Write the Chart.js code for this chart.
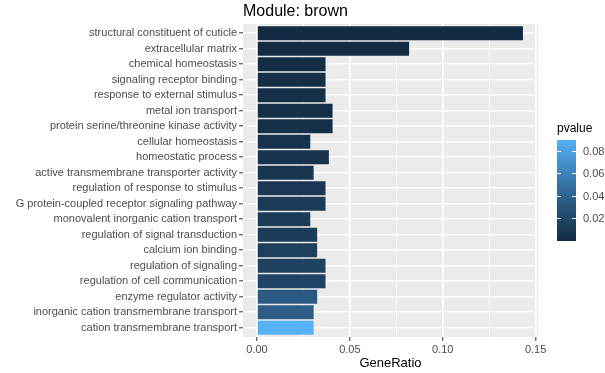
<!DOCTYPE html>
<html>
<head>
<meta charset="utf-8">
<script src="https://cdn.jsdelivr.net/npm/chart.js@4/dist/chart.umd.min.js"></script>
<style>
  html, body { margin: 0; padding: 0; background: #ffffff; }
  canvas { display: block; }
</style>
</head>
<body>
<canvas id="c" width="605" height="373"></canvas>
<script>
// GO terms enriched in the brown module, top to bottom
const terms = [
  "structural constituent of cuticle",
  "extracellular matrix",
  "chemical homeostasis",
  "signaling receptor binding",
  "response to external stimulus",
  "metal ion transport",
  "protein serine/threonine kinase activity",
  "cellular homeostasis",
  "homeostatic process",
  "active transmembrane transporter activity",
  "regulation of response to stimulus",
  "G protein-coupled receptor signaling pathway",
  "monovalent inorganic cation transport",
  "regulation of signal transduction",
  "calcium ion binding",
  "regulation of signaling",
  "regulation of cell communication",
  "enzyme regulator activity",
  "inorganic cation transmembrane transport",
  "cation transmembrane transport"
];
const geneRatio = [
  0.1432, 0.0819, 0.0369, 0.0369, 0.0369, 0.0407, 0.0407, 0.0287, 0.0387, 0.0305,
  0.0369, 0.0369, 0.0287, 0.0324, 0.0324, 0.0369, 0.0369, 0.0324, 0.0305, 0.0305
];
const pvalue = [
  0.00001, 0.0005, 0.002, 0.003, 0.003, 0.004, 0.004, 0.005, 0.006, 0.008,
  0.010, 0.011, 0.012, 0.013, 0.015, 0.017, 0.018, 0.033, 0.036, 0.0895
];
const xTicks = [0, 0.025, 0.05, 0.075, 0.10, 0.125, 0.15];
const legendTicks = [0.02, 0.04, 0.06, 0.08];
const chartTitle = "Module: brown";
const xTitle = "GeneRatio";
const legendTitle = "pvalue";

// ---- colour ramp in CIE Lab between the low and high fill colours ----
const LOW = "#132B43", HIGH = "#56B1F7";
function hexRgb(h) { return [1, 3, 5].map(i => parseInt(h.substr(i, 2), 16)); }
function toLin(c) { c /= 255; return c <= 0.04045 ? c / 12.92 : Math.pow((c + 0.055) / 1.055, 2.4); }
function fromLin(c) { const v = c <= 0.0031308 ? 12.92 * c : 1.055 * Math.pow(c, 1 / 2.4) - 0.055; return Math.max(0, Math.min(255, Math.round(v * 255))); }
const WHITE = [0.95047, 1.0, 1.08883];
function rgbLab(rgb) {
  const [r, g, b] = rgb.map(toLin);
  const X = r * 0.4124564 + g * 0.3575761 + b * 0.1804375;
  const Y = r * 0.2126729 + g * 0.7151522 + b * 0.0721750;
  const Z = r * 0.0193339 + g * 0.1191920 + b * 0.9503041;
  const f = t => t > 216 / 24389 ? Math.cbrt(t) : (24389 / 27 * t + 16) / 116;
  const fx = f(X / WHITE[0]), fy = f(Y / WHITE[1]), fz = f(Z / WHITE[2]);
  return [116 * fy - 16, 500 * (fx - fy), 200 * (fy - fz)];
}
function labRgb(lab) {
  const [L, a, b] = lab;
  const fy = (L + 16) / 116, fx = fy + a / 500, fz = fy - b / 200;
  const inv = t => t * t * t > 216 / 24389 ? t * t * t : (116 * t - 16) / (24389 / 27);
  const X = inv(fx) * WHITE[0], Y = inv(fy) * WHITE[1], Z = inv(fz) * WHITE[2];
  const r = X * 3.2404542 + Y * -1.5371385 + Z * -0.4985314;
  const g = X * -0.9692660 + Y * 1.8760108 + Z * 0.0415560;
  const bb = X * 0.0556434 + Y * -0.2040259 + Z * 1.0572252;
  return [fromLin(r), fromLin(g), fromLin(bb)];
}
const labLow = rgbLab(hexRgb(LOW)), labHigh = rgbLab(hexRgb(HIGH));
const pMin = Math.min(...pvalue), pMax = Math.max(...pvalue);
function rampColor(t) {
  t = Math.max(0, Math.min(1, t));
  const lab = labLow.map((v, i) => v + (labHigh[i] - v) * t);
  const [r, g, b] = labRgb(lab);
  return `rgb(${r},${g},${b})`;
}
function pColor(p) { return rampColor((p - pMin) / (pMax - pMin)); }

const FONT = "'Liberation Sans', Arial, Helvetica, sans-serif";
const isMajor = v => Math.abs(v / 0.05 - Math.round(v / 0.05)) < 1e-9;

// grey panel behind the grid
const panelBg = {
  id: 'panelBg',
  beforeDraw(chart) {
    const { ctx, chartArea: a } = chart;
    ctx.save();
    ctx.fillStyle = '#EBEBEB';
    ctx.fillRect(a.left, a.top, a.right - a.left, a.bottom - a.top);
    ctx.restore();
  }
};

// plot title and continuous colour legend
const decorations = {
  id: 'decorations',
  afterDraw(chart) {
    const { ctx, chartArea: a } = chart;
    ctx.save();
    ctx.fillStyle = '#000000';
    ctx.font = `16px ${FONT}`;
    ctx.textAlign = 'left';
    ctx.textBaseline = 'alphabetic';
    ctx.fillText(chartTitle, a.left, 16);

    // legend
    const lx = a.right + 19, barW = 19, top = 140, bottom = 241;
    ctx.font = `12px ${FONT}`;
    ctx.fillText(legendTitle, lx, 132);
    const grad = ctx.createLinearGradient(0, bottom, 0, top);
    for (let i = 0; i <= 20; i++) grad.addColorStop(i / 20, rampColor(i / 20));
    ctx.fillStyle = grad;
    ctx.fillRect(lx, top, barW, bottom - top);
    const yOf = v => bottom - (v - pMin) / (pMax - pMin) * (bottom - top);
    ctx.strokeStyle = '#FFFFFF';
    ctx.lineWidth = 1;
    ctx.fillStyle = '#4D4D4D';
    ctx.font = `11px ${FONT}`;
    ctx.textBaseline = 'middle';
    legendTicks.forEach(v => {
      const y = Math.round(yOf(v)) + 0.5;
      ctx.beginPath();
      ctx.moveTo(lx, y); ctx.lineTo(lx + 4, y);
      ctx.moveTo(lx + barW - 4, y); ctx.lineTo(lx + barW, y);
      ctx.stroke();
      ctx.fillText(v.toFixed(2), lx + barW + 7, y);
    });
    ctx.restore();
  }
};

new Chart(document.getElementById('c'), {
  type: 'bar',
  data: {
    datasets: [{
      data: terms.map((t, i) => ({ y: i + 1, x: geneRatio[i] })),
      backgroundColor: pvalue.map(pColor),
      borderWidth: 0,
      barPercentage: 0.9,
      categoryPercentage: 1.0
    }]
  },
  options: {
    indexAxis: 'y',
    responsive: false,
    devicePixelRatio: 1,
    animation: false,
    layout: { padding: { left: 0, right: 67, top: 24, bottom: 0 } },
    plugins: { legend: { display: false }, tooltip: { enabled: false }, title: { display: false } },
    scales: {
      x: {
        type: 'linear',
        offset: false,
        min: -0.00753,
        max: 0.1513,
        afterBuildTicks: s => { s.ticks = xTicks.map(v => ({ value: v })); },
        afterFit: s => { s.height = 36; },
        border: { display: false },
        grid: {
          offset: false,
          color: '#FFFFFF',
          lineWidth: c => isMajor(c.tick.value) ? 1.6 : 0.8,
          tickColor: c => isMajor(c.tick.value) ? '#333333' : 'rgba(0,0,0,0)',
          tickLength: 4,
          tickWidth: 1
        },
        ticks: {
          autoSkip: false,
          maxRotation: 0,
          padding: 2,
          color: '#4D4D4D',
          font: { family: FONT, size: 11 },
          callback: v => isMajor(v) ? v.toFixed(2) : ''
        },
        title: {
          display: true,
          text: xTitle,
          color: '#000000',
          font: { family: FONT, size: 13 },
          padding: { top: 0, bottom: 2 }
        }
      },
      y: {
        type: 'linear',
        offset: false,
        reverse: true,
        min: 0.4,
        max: 20.6,
        afterBuildTicks: s => { s.ticks = terms.map((t, i) => ({ value: i + 1 })); },
        afterFit: s => { s.width = 243; },
        border: { display: false },
        grid: {
          offset: false,
          color: '#FFFFFF',
          lineWidth: 1.6,
          tickColor: '#333333',
          tickLength: 4,
          tickWidth: 1
        },
        ticks: {
          autoSkip: false,
          padding: 2,
          color: '#4D4D4D',
          font: { family: FONT, size: 11 },
          callback: v => terms[Math.round(v) - 1]
        }
      }
    }
  },
  plugins: [panelBg, decorations]
});
</script>
</body>
</html>
